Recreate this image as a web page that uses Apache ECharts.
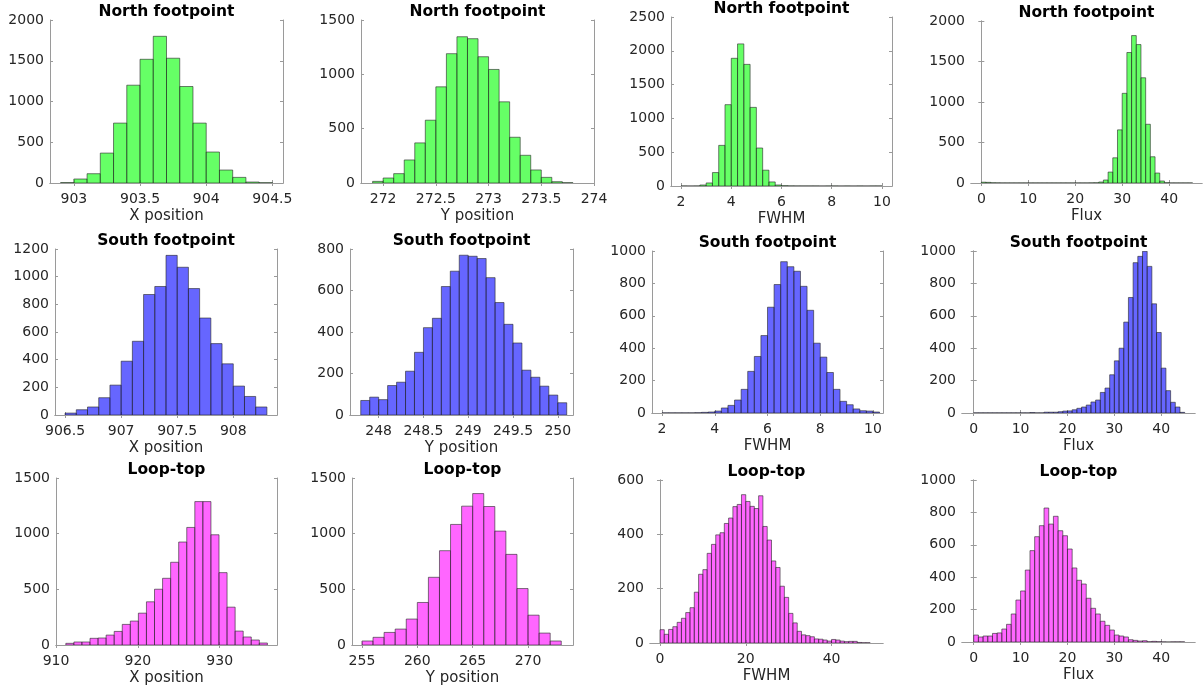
<!DOCTYPE html>
<html>
<head>
<meta charset="utf-8">
<title>Footpoint and loop-top parameter distributions</title>
<script src="https://cdn.jsdelivr.net/npm/echarts@6/dist/echarts.min.js"></script>
<style>
  html, body { margin: 0; padding: 0; background: #fff; }
  #chart { width: 1204px; height: 687px; }
</style>
</head>
<body>
<div id="chart"></div>
<script>
// ---- Histogram counts (bin start, bin width, counts per bin) ----

// North footpoint
const northXStart = 902.9, northXWidth = 0.1;
const northXCounts = [5, 49, 114, 367, 735, 1200, 1518, 1800, 1531, 1184, 735, 380, 159, 69, 12, 4];

const northYStart = 271.9, northYWidth = 0.1;
const northYCounts = [15, 46, 86, 212, 369, 578, 885, 1190, 1346, 1328, 1162, 1045, 747, 421, 255, 120, 52, 12, 3];

const northFwhmStart = 2.0, northFwhmWidth = 0.25;
const northFwhmCounts = [1, 0, 1, 15, 45, 199, 601, 1203, 1889, 2102, 1799, 1163, 562, 234, 60, 15,
                         5, 2, 1, 1, 1, 1, 0, 1, 1, 0, 1, 0, 1, 0, 1, 1];

const northFluxStart = 0, northFluxWidth = 1;
const northFluxCounts = [10, 8, 3, 2, 1, 1, 1, 1, 1, 1, 1, 1, 1, 1, 1, 1, 1, 1, 1, 1, 1, 1, 1, 2, 3,
                         12, 37, 135, 311, 656, 1107, 1611, 1820, 1709, 1299, 725, 324, 123, 25, 4,
                         1, 1, 1, 1, 1];

// South footpoint
const southXStart = 906.5, southXWidth = 0.1;
const southXCounts = [14, 38, 58, 125, 216, 389, 533, 871, 929, 1154, 1068, 914, 701, 516, 370, 209, 134, 58];

const southYStart = 247.8, southYWidth = 0.1;
const southYCounts = [70, 86, 74, 142, 158, 211, 302, 421, 466, 619, 693, 770, 765, 754, 662, 542,
                      437, 347, 216, 182, 139, 96, 59];

const southFwhmStart = 2.0, southFwhmWidth = 0.25;
const southFwhmCounts = [1, 1, 1, 1, 1, 2, 4, 6, 12, 31, 47, 80, 146, 257, 349, 478, 653, 793, 934,
                         903, 875, 782, 634, 431, 345, 250, 146, 72, 51, 25, 14, 12, 6];

const southFluxStart = 0, southFluxWidth = 1;
const southFluxCounts = [1, 1, 1, 1, 1, 1, 1, 1, 1, 1, 1, 1, 3, 1, 1, 5, 5, 5, 8, 12, 13, 20, 29, 37,
                         49, 68, 80, 127, 154, 236, 322, 400, 561, 713, 928, 967, 998, 905, 674, 497,
                         277, 138, 66, 37, 4];

// Loop-top
const loopXStart = 911.2, loopXWidth = 0.985;
const loopXCounts = [15, 27, 27, 60, 63, 89, 122, 185, 215, 286, 388, 501, 599, 743, 925, 1056, 1288,
                     1288, 990, 650, 340, 125, 72, 45, 18];

const loopYStart = 255, loopYWidth = 1;
const loopYCounts = [36, 69, 113, 143, 233, 382, 608, 847, 1083, 1247, 1360, 1244, 1023, 814, 507, 268, 107, 36];

const loopFwhmStart = 0, loopFwhmWidth = 1;
const loopFwhmCounts = [49, 32, 50, 60, 76, 91, 112, 130, 187, 253, 270, 330, 363, 398, 406, 440, 460,
                        502, 510, 546, 521, 503, 495, 542, 429, 379, 302, 278, 209, 168, 109, 74, 43,
                        30, 27, 23, 15, 14, 11, 7, 13, 11, 7, 5, 6, 6, 2, 1, 1];

const loopFluxStart = 0, loopFluxWidth = 1;
const loopFluxCounts = [43, 31, 37, 37, 53, 56, 80, 109, 173, 259, 315, 444, 564, 650, 718, 827, 728,
                        776, 687, 656, 574, 457, 381, 358, 270, 208, 173, 128, 103, 74, 43, 37, 31, 14,
                        10, 6, 8, 2, 4, 2, 1, 0, 1, 1, 1];

// ---- Axis tick values ----
const northXTicks = [903, 903.5, 904, 904.5];
const northYTicks = [272, 272.5, 273, 273.5, 274];
const fwhmSmallTicks = [2, 4, 6, 8, 10];
const fluxTicks = [0, 10, 20, 30, 40];
const southXTicks = [906.5, 907, 907.5, 908];
const southYTicks = [248, 248.5, 249, 249.5, 250];
const loopXTicks = [910, 920, 930];
const loopYTicks = [255, 260, 265, 270];
const loopFwhmTicks = [0, 20, 40];

// ---- Titles and labels ----
const rowTitles = ['North footpoint', 'South footpoint', 'Loop-top'];
const colLabels = ['X position', 'Y position', 'FWHM', 'Flux'];

// ---- Styling ----
const FONT = 'DejaVu Sans';
const FILLS = ['rgba(0,255,0,0.6)', 'rgba(0,0,255,0.6)', 'rgba(255,0,255,0.6)'];
const EDGE = 'rgba(38,38,38,0.6)';
const BOX = '#9a9a9a';
const TEXT = '#262626';

// Panel layout: plot-box edges [left, top, right, bottom] in px
const panels = [
  { row: 0, col: 0, start: northXStart, width: northXWidth, counts: northXCounts, xr: [902.82, 904.58], xt: northXTicks, ymax: 2000, yi: 500, box: [50, 20, 283, 183] },
  { row: 0, col: 1, start: northYStart, width: northYWidth, counts: northYCounts, xr: [271.79, 274.0], xt: northYTicks, ymax: 1500, yi: 500, box: [361, 20, 594, 183] },
  { row: 0, col: 2, start: northFwhmStart, width: northFwhmWidth, counts: northFwhmCounts, xr: [1.6, 10.4], xt: fwhmSmallTicks, ymax: 2500, yi: 500, box: [671, 17, 892, 186] },
  { row: 0, col: 3, start: northFluxStart, width: northFluxWidth, counts: northFluxCounts, xr: [-2.2, 47], xt: fluxTicks, ymax: 2000, yi: 500, box: [971, 21, 1202, 183] },

  { row: 1, col: 0, start: southXStart, width: southXWidth, counts: southXCounts, xr: [906.41, 908.39], xt: southXTicks, ymax: 1200, yi: 200, box: [55, 249, 277, 415] },
  { row: 1, col: 1, start: southYStart, width: southYWidth, counts: southYCounts, xr: [247.68, 250.17], xt: southYTicks, ymax: 800, yi: 200, box: [350, 249, 573, 415] },
  { row: 1, col: 2, start: southFwhmStart, width: southFwhmWidth, counts: southFwhmCounts, xr: [1.62, 10.38], xt: fwhmSmallTicks, ymax: 1000, yi: 200, box: [652, 251, 883, 413] },
  { row: 1, col: 3, start: southFluxStart, width: southFluxWidth, counts: southFluxCounts, xr: [-2.5, 47.2], xt: fluxTicks, ymax: 1000, yi: 200, box: [962, 251, 1195, 413] },

  { row: 2, col: 0, start: loopXStart, width: loopXWidth, counts: loopXCounts, xr: [910, 937], xt: loopXTicks, ymax: 1500, yi: 500, box: [56, 478, 277, 645] },
  { row: 2, col: 1, start: loopYStart, width: loopYWidth, counts: loopYCounts, xr: [254.1, 274.06], xt: loopYTicks, ymax: 1500, yi: 500, box: [352, 478, 573, 645] },
  { row: 2, col: 2, start: loopFwhmStart, width: loopFwhmWidth, counts: loopFwhmCounts, xr: [-2.33, 52], xt: loopFwhmTicks, ymax: 600, yi: 200, box: [650, 480, 883, 643] },
  { row: 2, col: 3, start: loopFluxStart, width: loopFluxWidth, counts: loopFluxCounts, xr: [-2.5, 47.2], xt: fluxTicks, ymax: 1000, yi: 200, box: [962, 480, 1195, 642] }
];

// plain numbers, no thousands separators
const plain = v => String(Math.round(v * 1000) / 1000);

const grid = [], xAxis = [], yAxis = [], series = [], title = [];

panels.forEach((p, i) => {
  const [l, t, r, b] = p.box;
  grid.push({ left: l, top: t, width: r - l, height: b - t, containLabel: false });

  title.push({
    text: rowTitles[p.row],
    left: (l + r) / 2,
    top: Math.max(0, t - 16),
    padding: 0,
    textAlign: 'center',
    textStyle: { fontFamily: FONT, fontSize: 15.5, fontWeight: 'bold', color: '#000' }
  });

  const tickStyle = { show: true, inside: true, length: 3, lineStyle: { color: BOX, width: 1 } };
  const lineStyle = { show: true, lineStyle: { color: BOX, width: 1 } };

  // bottom x axis with labels
  xAxis.push({
    type: 'value', gridIndex: i, position: 'bottom', min: p.xr[0], max: p.xr[1],
    axisLine: lineStyle,
    axisTick: Object.assign({ customValues: p.xt }, tickStyle),
    axisLabel: { customValues: p.xt, margin: 9, formatter: plain, fontFamily: FONT, fontSize: 14, color: TEXT },
    splitLine: { show: false },
    name: colLabels[p.col], nameLocation: 'middle', nameGap: 26,
    nameTextStyle: { fontFamily: FONT, fontSize: 15, color: TEXT }
  });
  // top x axis: box edge with inward ticks
  xAxis.push({
    type: 'value', gridIndex: i, position: 'top', min: p.xr[0], max: p.xr[1],
    axisLine: lineStyle,
    axisTick: Object.assign({ customValues: p.xt }, tickStyle),
    axisLabel: { show: false },
    splitLine: { show: false }
  });
  // left y axis with labels
  yAxis.push({
    type: 'value', gridIndex: i, position: 'left', min: 0, max: p.ymax, interval: p.yi,
    axisLine: lineStyle, axisTick: tickStyle,
    axisLabel: { margin: 6, formatter: plain, fontFamily: FONT, fontSize: 14, color: TEXT },
    splitLine: { show: false }
  });
  // right y axis: box edge with inward ticks
  yAxis.push({
    type: 'value', gridIndex: i, position: 'right', min: 0, max: p.ymax, interval: p.yi,
    axisLine: lineStyle, axisTick: tickStyle,
    axisLabel: { show: false },
    splitLine: { show: false }
  });

  // one row per bin: [left edge, right edge, count]
  const data = p.counts.map((c, k) => [p.start + k * p.width, p.start + (k + 1) * p.width, c]);
  const fill = FILLS[p.row];

  series.push({
    type: 'custom',
    xAxisIndex: 2 * i,
    yAxisIndex: 2 * i,
    silent: true,
    clip: true,
    encode: { x: [0, 1], y: 2 },
    data: data,
    renderItem: (params, api) => {
      const p0 = api.coord([api.value(0), 0]);
      const p1 = api.coord([api.value(1), api.value(2)]);
      return {
        type: 'rect',
        shape: { x: p0[0], y: p1[1], width: p1[0] - p0[0], height: p0[1] - p1[1] },
        style: { fill: fill, stroke: EDGE, lineWidth: 1 }
      };
    }
  });
});

const chart = echarts.init(document.getElementById('chart'), null, { renderer: 'canvas' });
chart.setOption({
  animation: false,
  backgroundColor: '#ffffff',
  title, grid, xAxis, yAxis, series
});
</script>
</body>
</html>
